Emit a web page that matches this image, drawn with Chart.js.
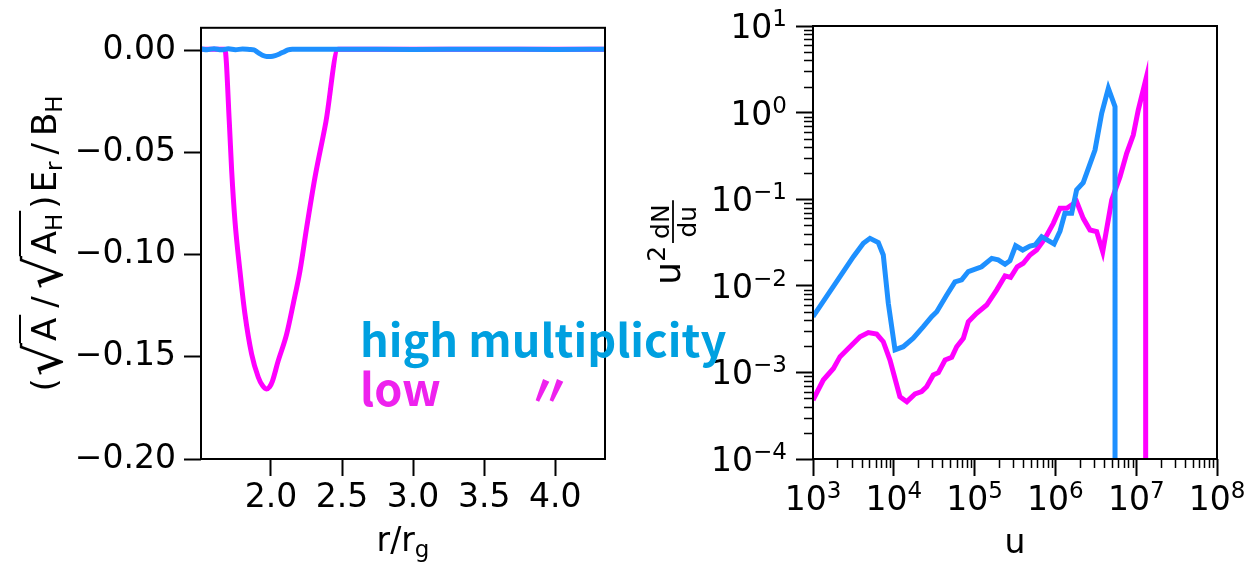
<!DOCTYPE html>
<html>
<head>
<meta charset="utf-8">
<script src="https://cdn.jsdelivr.net/npm/chart.js"></script>
<style>
    html, body { margin: 0; padding: 0; background: #fff; }
    #wrap { position: relative; width: 1248px; height: 565px; overflow: hidden; }
    .panel { position: absolute; top: 0; width: 624px; height: 565px; }
    #leftPanel { left: 0; }
    #rightPanel { left: 624px; }
    .note {
        position: absolute;
        font-family: "Noto Sans CJK JP", "Noto Sans", sans-serif;
        font-weight: 700;
        font-size: 45px;
        line-height: 1;
        white-space: nowrap;
    }
</style>
</head>
<body>
<div id="wrap">
    <div class="panel" id="leftPanel"><canvas id="fieldChart" width="624" height="565"></canvas></div>
    <div class="panel" id="rightPanel"><canvas id="spectrumChart" width="624" height="565"></canvas></div>
    <div class="note" style="left:360px; top:315px; color:#00a0e0;">high multiplicity</div>
    <div class="note" style="left:360px; top:364px; color:#ee22ee;">low</div>
    <div class="note" style="left:527px; top:365px; color:#ee22ee;">〃</div>
</div>
<script>
// left panel: radial electric field
const rTicks = [2.0, 2.5, 3.0, 3.5, 4.0];
const eTicks = [0.00, -0.05, -0.10, -0.15, -0.20];

const rHigh = [1.508, 1.55, 1.60, 1.65, 1.70, 1.75, 1.80, 1.85, 1.88, 1.91, 1.94, 1.97, 2.00, 2.03, 2.06, 2.09, 2.12, 2.15, 2.50, 3.00, 3.50, 4.00, 4.35];
const eHigh = [0.0007, 0.0003, 0.0008, 0.0002, 0.0007, 0.0003, 0.0006, 0.0004, 0.0002, -0.0012, -0.0024, -0.0030, -0.0030, -0.0026, -0.0018, -0.0008, 0.0002, 0.0005, 0.0005, 0.0004, 0.0005, 0.0004, 0.0005];

const rLow = [1.508, 1.60, 1.676, 1.707, 1.724, 1.747, 1.782, 1.817, 1.864, 1.911, 1.940, 1.968, 1.990, 2.010, 2.051, 2.110, 2.157, 2.204, 2.251, 2.309, 2.387, 2.473, 3.0, 3.5, 4.0, 4.35];
const eLow = [0.0005, 0.0005, 0.0005, -0.0349, -0.0593, -0.0836, -0.108, -0.129, -0.1486, -0.160, -0.1640, -0.1657, -0.1648, -0.1620, -0.152, -0.139, -0.124, -0.108, -0.0869, -0.0625, -0.0349, 0.0005, 0.0005, 0.0005, 0.0005, 0.0005];

// right panel: spectrum u^2 dN/du
const uTicks = [1e3, 1e4, 1e5, 1e6, 1e7, 1e8];
const sTicks = [1e-4, 1e-3, 1e-2, 1e-1, 1e0, 1e1];

const uHigh = [1.0e3, 1.96e3, 3.16e3, 4.20e3, 5.07e3, 6.43e3, 7.41e3, 8.55e3, 1.035e4, 1.31e4, 1.74e4, 2.32e4, 2.94e4, 3.40e4, 4.52e4, 5.71e4, 6.92e4, 8.36e4, 1.22e5, 1.63e5, 1.96e5, 2.38e5, 2.74e5, 3.22e5, 3.94e5, 4.85e5, 5.60e5, 6.76e5, 8.17e5, 9.62e5, 1.14e6, 1.31e6, 1.59e6, 1.83e6, 2.21e6, 3.09e6, 3.74e6, 4.52e6, 5.47e6, 5.47e6];
const sHigh = [4.4e-3, 1.12e-2, 2.17e-2, 3.10e-2, 3.53e-2, 3.15e-2, 2.27e-2, 6.28e-3, 1.82e-3, 1.98e-3, 2.48e-3, 3.37e-3, 4.40e-3, 5.02e-3, 7.83e-3, 1.11e-2, 1.17e-2, 1.46e-2, 1.66e-2, 2.07e-2, 1.99e-2, 1.77e-2, 1.95e-2, 2.90e-2, 2.59e-2, 2.88e-2, 2.96e-2, 3.69e-2, 3.32e-2, 3.04e-2, 4.27e-2, 6.87e-2, 6.87e-2, 0.128, 0.155, 0.370, 0.982, 1.91, 1.17, 1e-6];

const uLow = [1.0e3, 1.34e3, 1.79e3, 2.16e3, 2.87e3, 3.82e3, 4.84e3, 6.14e3, 7.41e3, 8.97e3, 1.19e4, 1.45e4, 1.83e4, 2.21e4, 2.55e4, 3.08e4, 3.56e4, 4.31e4, 5.21e4, 6.00e4, 7.26e4, 8.36e4, 1.06e5, 1.41e5, 1.87e5, 2.38e5, 2.79e5, 3.37e5, 4.00e5, 4.85e5, 5.86e5, 7.43e5, 9.42e5, 1.14e6, 1.38e6, 1.83e6, 2.21e6, 2.68e6, 3.24e6, 3.85e6, 4.98e6, 6.31e6, 7.62e6, 9.20e6, 1.06e7, 1.31e7, 1.31e7];
const sLow = [4.80e-4, 8.17e-4, 1.11e-3, 1.52e-3, 1.98e-3, 2.58e-3, 2.88e-3, 2.77e-3, 2.26e-3, 1.39e-3, 5.24e-4, 4.59e-4, 5.64e-4, 6.00e-4, 6.84e-4, 9.33e-4, 9.93e-4, 1.39e-3, 1.49e-3, 1.98e-3, 2.48e-3, 3.85e-3, 4.81e-3, 6.00e-3, 8.93e-3, 1.30e-2, 1.25e-2, 1.66e-2, 1.82e-2, 2.27e-2, 2.59e-2, 3.53e-2, 5.26e-2, 7.85e-2, 7.85e-2, 9.38e-2, 6.01e-2, 4.41e-2, 4.22e-2, 2.48e-2, 9.79e-2, 0.182, 0.339, 0.551, 1.07, 2.38, 1e-6];

const BLUE = '#1e90ff';
const MAGENTA = '#ff00ff';
const FONT = '"DejaVu Sans"';
const LABEL_SIZE = 33;
const SUB_SIZE = 23;

function zip(xs, ys) {
    return xs.map((x, i) => ({ x: x, y: ys[i] }));
}

const frame = {
    id: 'frame',
    afterDraw(chart) {
        const { ctx, chartArea: a } = chart;
        ctx.save();
        ctx.strokeStyle = '#000';
        ctx.lineWidth = 2;
        ctx.strokeRect(a.left, a.top, a.right - a.left, a.bottom - a.top);
        ctx.restore();
    }
};

function tickGrid() {
    return { display: true, drawOnChartArea: false, drawTicks: true, tickLength: 17, tickWidth: 2, tickColor: '#000' };
}

// text pieces laid out one after another on a baseline
function drawRun(ctx, pieces, x0, y0) {
    let x = x0;
    pieces.forEach(p => {
        ctx.font = p.size + 'px ' + FONT;
        x += p.before || 0;
        ctx.fillText(p.t, x, y0 + (p.dy || 0));
        x += ctx.measureText(p.t).width + (p.after || 0);
    });
    return x - x0;
}

function runWidth(ctx, pieces) {
    let w = 0;
    pieces.forEach(p => {
        ctx.font = p.size + 'px ' + FONT;
        w += (p.before || 0) + ctx.measureText(p.t).width + (p.after || 0);
    });
    return w;
}

const fieldTitles = {
    id: 'fieldTitles',
    afterDraw(chart) {
        const { ctx, chartArea: a } = chart;
        ctx.save();
        ctx.fillStyle = '#000';
        ctx.textBaseline = 'alphabetic';
        ctx.textAlign = 'left';

        // x title r/r_g
        const xt = [{ t: 'r/r', size: LABEL_SIZE }, { t: 'g', size: SUB_SIZE, dy: 6 }];
        const wx = runWidth(ctx, xt);
        drawRun(ctx, xt, (a.left + a.right) / 2 - wx / 2, 551);

        // y title (sqrt(A)/sqrt(A_H)) E_r / B_H
        ctx.translate(56, (a.top + a.bottom) / 2);
        ctx.rotate(-Math.PI / 2);
        const gap = 7;
        const parts = [
            { t: '(', size: 34, after: 2 },
            { sqrt: [{ t: 'A', size: 34 }] },
            { t: '/', size: 34, before: gap, after: gap },
            { sqrt: [{ t: 'A', size: 34 }, { t: 'H', size: SUB_SIZE, dy: 6 }] },
            { t: ')', size: 34, before: 2, after: 3 },
            { t: 'E', size: 34 },
            { t: 'r', size: SUB_SIZE, dy: 6 },
            { t: '/', size: 34, before: gap, after: gap },
            { t: 'B', size: 34 },
            { t: 'H', size: SUB_SIZE, dy: 6 }
        ];
        ctx.font = '52px ' + FONT;
        const rad = ctx.measureText('\u221A');
        const radW = rad.width;
        let total = 0;
        parts.forEach(p => {
            if (p.sqrt) total += radW + runWidth(ctx, p.sqrt) + 5;
            else total += runWidth(ctx, [p]);
        });
        let x = -total / 2;
        parts.forEach(p => {
            if (p.sqrt) {
                ctx.font = '52px ' + FONT;
                ctx.fillText('\u221A', x, 6);
                const top = 6 - rad.actualBoundingBoxAscent + 1;
                const inner = runWidth(ctx, p.sqrt);
                ctx.lineWidth = 2;
                ctx.strokeStyle = '#000';
                ctx.beginPath();
                ctx.moveTo(x + rad.actualBoundingBoxRight - 1, top);
                ctx.lineTo(x + radW + inner + 5, top);
                ctx.stroke();
                drawRun(ctx, p.sqrt, x + radW + 2, 0);
                x += radW + inner + 5;
            } else {
                x += drawRun(ctx, [p], x, 0);
            }
        });
        ctx.restore();
    }
};

function drawPower(ctx, exp, x, y, align) {
    const base = '10';
    const sup = exp < 0 ? '\u2212' + (-exp) : String(exp);
    ctx.font = LABEL_SIZE + 'px ' + FONT;
    const wb = ctx.measureText(base).width;
    ctx.font = SUB_SIZE + 'px ' + FONT;
    const ws = ctx.measureText(sup).width;
    const total = wb + ws;
    const x0 = align === 'center' ? x - total / 2 : x - total;
    ctx.font = LABEL_SIZE + 'px ' + FONT;
    ctx.fillText(base, x0, y);
    ctx.font = SUB_SIZE + 'px ' + FONT;
    ctx.fillText(sup, x0 + wb, y - 12);
}

const spectrumAxes = {
    id: 'spectrumAxes',
    afterDraw(chart) {
        const { ctx, chartArea: a } = chart;
        const xs = chart.scales.x;
        const ys = chart.scales.y;
        ctx.save();
        ctx.fillStyle = '#000';
        ctx.strokeStyle = '#000';
        ctx.textBaseline = 'alphabetic';
        ctx.textAlign = 'left';

        // minor ticks at 2..9 of each decade
        ctx.lineWidth = 1.5;
        ctx.beginPath();
        for (let i = 0; i < uTicks.length - 1; i++) {
            for (let m = 2; m <= 9; m++) {
                const px = Math.round(xs.getPixelForValue(uTicks[i] * m)) + 0.5;
                ctx.moveTo(px, a.bottom);
                ctx.lineTo(px, a.bottom + 9);
            }
        }
        for (let i = 0; i < sTicks.length - 1; i++) {
            for (let m = 2; m <= 9; m++) {
                const py = Math.round(ys.getPixelForValue(sTicks[i] * m)) + 0.5;
                ctx.moveTo(a.left - 9, py);
                ctx.lineTo(a.left, py);
            }
        }
        ctx.stroke();

        // tick labels 10^n
        uTicks.forEach(v => {
            drawPower(ctx, Math.round(Math.log10(v)), xs.getPixelForValue(v), 510, 'center');
        });
        sTicks.forEach(v => {
            drawPower(ctx, Math.round(Math.log10(v)), a.left - 26, ys.getPixelForValue(v) + 12, 'right');
        });

        // x title
        ctx.font = LABEL_SIZE + 'px ' + FONT;
        ctx.textAlign = 'center';
        ctx.fillText('u', (a.left + a.right) / 2, 553);

        // y title u^2 dN/du
        ctx.textAlign = 'left';
        ctx.translate(56, (a.top + a.bottom) / 2);
        ctx.rotate(-Math.PI / 2);
        ctx.font = '36px ' + FONT;
        const wu = ctx.measureText('u').width;
        ctx.font = '25px ' + FONT;
        const w2 = ctx.measureText('2').width;
        const wf = Math.max(ctx.measureText('dN').width, ctx.measureText('du').width) + 8;
        const total = wu + w2 + wf + 3;
        let x = -total / 2;
        ctx.font = '36px ' + FONT;
        ctx.fillText('u', x, 0);
        x += wu;
        ctx.font = '25px ' + FONT;
        ctx.fillText('2', x, -15);
        x += w2 + 3;
        ctx.lineWidth = 1.8;
        ctx.beginPath();
        ctx.moveTo(x, -7);
        ctx.lineTo(x + wf, -7);
        ctx.stroke();
        ctx.textAlign = 'center';
        ctx.fillText('dN', x + wf / 2, -11);
        ctx.fillText('du', x + wf / 2, 16);
        ctx.restore();
    }
};

new Chart(document.getElementById('fieldChart'), {
    type: 'line',
    data: {
        datasets: [
            { label: 'high', data: zip(rHigh, eHigh), borderColor: BLUE, borderWidth: 5, pointRadius: 0, cubicInterpolationMode: 'monotone', fill: false },
            { label: 'low', data: zip(rLow, eLow), borderColor: MAGENTA, borderWidth: 5, pointRadius: 0, cubicInterpolationMode: 'monotone', fill: false }
        ]
    },
    options: {
        responsive: false,
        animation: false,
        layout: { padding: { left: 0, top: 26, right: 19, bottom: 0 } },
        plugins: { legend: { display: false }, tooltip: { enabled: false } },
        scales: {
            x: {
                type: 'linear',
                min: 1.508,
                max: 4.35,
                afterBuildTicks: (scale) => { scale.ticks = rTicks.map(v => ({ value: v })); },
                afterFit: (scale) => { scale.height = 106; },
                grid: tickGrid(),
                border: { display: false },
                ticks: {
                    font: { family: 'DejaVu Sans', size: LABEL_SIZE },
                    color: '#000',
                    padding: 3,
                    maxRotation: 0,
                    autoSkip: false,
                    callback: (v) => v.toFixed(1)
                }
            },
            y: {
                type: 'linear',
                min: -0.20,
                max: 0.011,
                afterBuildTicks: (scale) => { scale.ticks = eTicks.map(v => ({ value: v })); },
                afterFit: (scale) => { scale.width = 201; },
                grid: tickGrid(),
                border: { display: false },
                ticks: {
                    font: { family: 'DejaVu Sans', size: LABEL_SIZE },
                    color: '#000',
                    padding: 8,
                    autoSkip: false,
                    callback: (v) => (v < 0 ? '\u2212' : '') + Math.abs(v).toFixed(2)
                }
            }
        }
    },
    plugins: [frame, fieldTitles]
});

new Chart(document.getElementById('spectrumChart'), {
    type: 'line',
    data: {
        datasets: [
            { label: 'high', data: zip(uHigh, sHigh), borderColor: BLUE, borderWidth: 5, pointRadius: 0, tension: 0, fill: false },
            { label: 'low', data: zip(uLow, sLow), borderColor: MAGENTA, borderWidth: 5, pointRadius: 0, tension: 0, fill: false }
        ]
    },
    options: {
        responsive: false,
        animation: false,
        layout: { padding: { left: 0, top: 26, right: 31, bottom: 0 } },
        plugins: { legend: { display: false }, tooltip: { enabled: false } },
        scales: {
            x: {
                type: 'logarithmic',
                min: 1e3,
                max: 1e8,
                afterBuildTicks: (scale) => { scale.ticks = uTicks.map(v => ({ value: v })); },
                afterFit: (scale) => { scale.height = 106; },
                grid: tickGrid(),
                border: { display: false },
                ticks: { display: false }
            },
            y: {
                type: 'logarithmic',
                min: 1e-4,
                max: 1e1,
                afterBuildTicks: (scale) => { scale.ticks = sTicks.map(v => ({ value: v })); },
                afterFit: (scale) => { scale.width = 189; },
                grid: tickGrid(),
                border: { display: false },
                ticks: { display: false }
            }
        }
    },
    plugins: [frame, spectrumAxes]
});
</script>
</body>
</html>
